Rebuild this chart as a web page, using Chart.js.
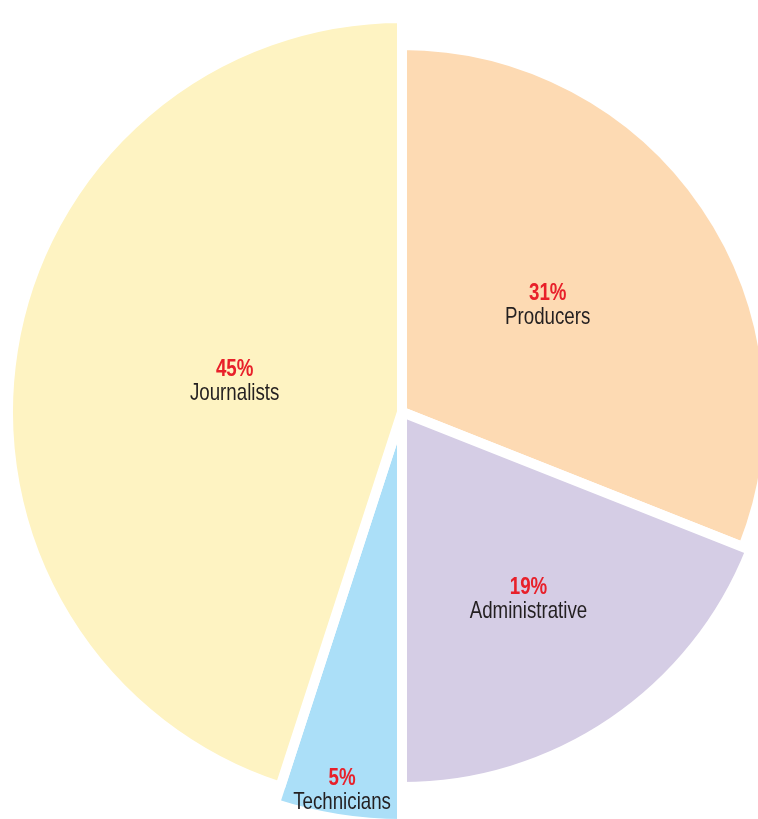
<!DOCTYPE html>
<html>
<head>
<meta charset="utf-8">
<script src="https://cdn.jsdelivr.net/npm/chart.js@4.4.1/dist/chart.umd.min.js"></script>
<style>
  html, body { margin: 0; padding: 0; background: #ffffff; overflow: hidden; width: 758px; height: 819px; }
  #wrap { position: absolute; left: 0; top: 0; }
</style>
</head>
<body>
<div id="wrap"><canvas id="c" width="804" height="824"></canvas></div>
<script>
// ---- data ----
const categories = ['Producers', 'Administrative', 'Technicians', 'Journalists'];
const shares = [31, 19, 5, 45];

// ---- styles ----
const sliceColors = ['#FDDAB3', '#D5CDE5', '#ABDFF8', '#FEF3C2'];
const sliceRadius = [367, 375, 412, 394];       // px, outer radius of each slice
const labelDistance = [0.48, 0.60, 0.93, 0.43]; // fraction of slice radius
const labelLift = [-8, 1, 0, -4];               // px vertical nudge of each label
const textCondense = 0.78;                      // horizontal squeeze to mimic a condensed face

const radiusPlugin = {
  id: 'sliceRadius',
  afterDatasetUpdate(chart, args) {
    args.meta.data.forEach((arc, i) => { arc.outerRadius = sliceRadius[i]; });
  }
};

const labelPlugin = {
  id: 'sliceLabels',
  afterDatasetsDraw(chart) {
    const ctx = chart.ctx;
    const meta = chart.getDatasetMeta(0);
    meta.data.forEach((arc, i) => {
      const mid = (arc.startAngle + arc.endAngle) / 2;
      const r = arc.outerRadius * labelDistance[i];
      const x = arc.x + Math.cos(mid) * r;
      const y = arc.y + Math.sin(mid) * r + labelLift[i];
      ctx.save();
      ctx.translate(x, y);
      ctx.scale(textCondense, 1);
      ctx.textAlign = 'center';
      ctx.textBaseline = 'middle';
      ctx.font = 'bold 24px "Liberation Sans", Arial, sans-serif';
      ctx.fillStyle = '#E8202A';
      ctx.fillText(shares[i] + '%', 0, -12);
      ctx.font = '24px "Liberation Sans", Arial, sans-serif';
      ctx.fillStyle = '#231F20';
      ctx.fillText(categories[i], 0, 12);
      ctx.restore();
    });
  }
};

new Chart(document.getElementById('c'), {
  type: 'pie',
  data: {
    labels: categories,
    datasets: [{
      data: shares,
      backgroundColor: sliceColors,
      borderColor: '#ffffff',
      borderWidth: 10,
      borderAlign: 'center'
    }]
  },
  options: {
    responsive: false,
    animation: false,
    events: [],
    radius: 367,
    rotation: 0,
    layout: { padding: 0 },
    plugins: { legend: { display: false }, tooltip: { enabled: false } }
  },
  plugins: [radiusPlugin, labelPlugin]
});
</script>
</body>
</html>
